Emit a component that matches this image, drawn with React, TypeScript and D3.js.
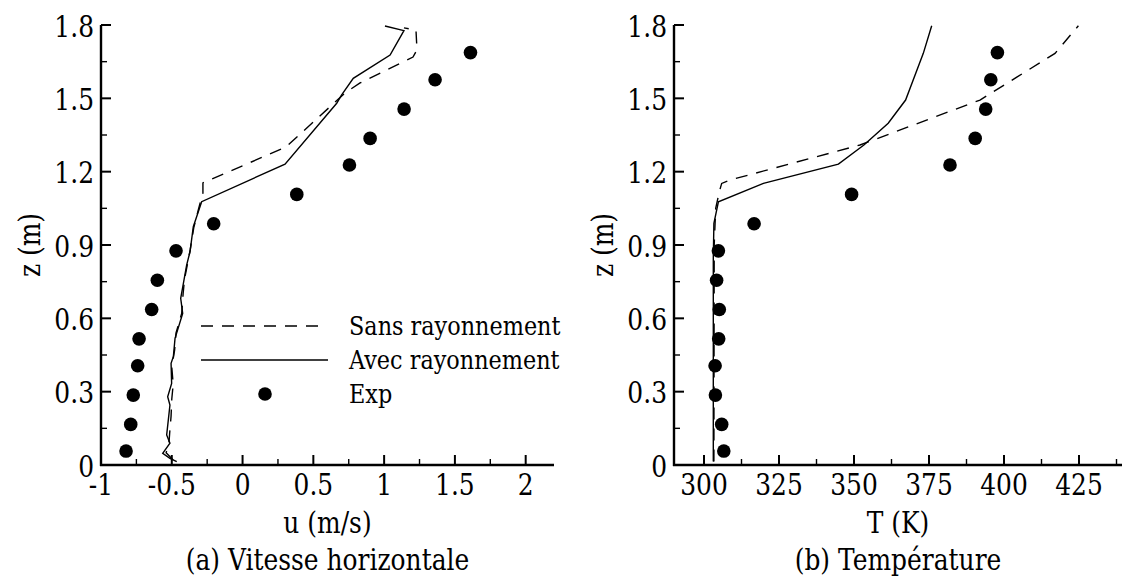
import React from "react";
import * as d3 from "d3";

// ---- data ----
const expZ = [0.057, 0.166, 0.286, 0.406, 0.516, 0.636, 0.756, 0.876, 0.987, 1.107, 1.227, 1.336, 1.456, 1.576, 1.687];
const uExp = [-0.823, -0.79, -0.772, -0.741, -0.731, -0.642, -0.602, -0.47, -0.204, 0.383, 0.755, 0.901, 1.141, 1.36, 1.61];
const tExp = [306.6, 305.9, 303.8, 303.7, 304.9, 305.1, 304.2, 304.8, 316.7, 349.2, 382.0, 390.4, 393.9, 395.6, 397.8];

const uAvecZ = [0.014, 0.027, 0.048, 0.089, 0.123, 0.245, 0.279, 0.334, 0.416, 0.443, 0.518, 0.62, 0.682, 0.743, 0.818, 0.873, 0.975, 1.077, 1.231, 1.48, 1.514, 1.582, 1.677, 1.777, 1.796];
const uAvec = [-0.465, -0.513, -0.564, -0.513, -0.536, -0.513, -0.529, -0.501, -0.505, -0.489, -0.477, -0.423, -0.437, -0.418, -0.395, -0.371, -0.348, -0.289, 0.3, 0.665, 0.7, 0.782, 1.042, 1.14, 1.006];

const uSansZ = [0.02, 0.05, 0.09, 0.13, 0.2, 0.27, 0.33, 0.4, 0.47, 0.54, 0.62, 0.7, 0.76, 0.82, 0.88, 0.97, 1.05, 1.113, 1.154, 1.301, 1.522, 1.563, 1.669, 1.698, 1.78, 1.788];
const uSans = [-0.49, -0.54, -0.52, -0.515, -0.505, -0.5, -0.49, -0.5, -0.48, -0.47, -0.43, -0.42, -0.41, -0.39, -0.37, -0.345, -0.31, -0.28, -0.28, 0.307, 0.724, 0.83, 1.204, 1.232, 1.225, 1.14];

const tAvecZ = [0.014, 0.85, 0.989, 1.077, 1.152, 1.231, 1.309, 1.398, 1.493, 1.684, 1.797];
const tAvec = [303.1, 303.1, 303.3, 304.8, 319.8, 344.8, 353.3, 361.4, 367.2, 373.1, 375.9];

const tSansZ = [0.014, 0.9, 1.05, 1.118, 1.152, 1.166, 1.309, 1.493, 1.684, 1.797];
const tSans = [303.3, 303.4, 303.9, 305.1, 305.9, 308.7, 352, 392, 417, 424.8];

const zTicks = [0, 0.3, 0.6, 0.9, 1.2, 1.5, 1.8];
const zMinor = [0.15, 0.45, 0.75, 1.05, 1.35, 1.65];
const uTicks = [-1, -0.5, 0, 0.5, 1, 1.5, 2];
const uMinor = [-0.75, -0.25, 0.25, 0.75, 1.25, 1.75];
const tTicks = [300, 325, 350, 375, 400, 425];
const tMinor = [312.5, 337.5, 362.5, 387.5, 412.5, 437.5];

const legendLabels = ["Sans rayonnement", "Avec rayonnement", "Exp"];

const FONT = "DejaVu Serif";
const DASH = "12,9";
const SX = 0.86;

const y = d3.scaleLinear().domain([0, 1.8]).range([465, 25]);
const xU = d3.scaleLinear().domain([-1, 2.2]).range([101, 554]);
const xT = d3.scaleLinear().domain([290, 440]).range([674, 1124]);

function T({ x, y, size = 29, anchor = "start", rotate = 0, children }: any) {
  return (
    <text
      transform={`translate(${x},${y})${rotate ? ` rotate(${rotate})` : ""} scale(${SX},1)`}
      textAnchor={anchor}
      style={{ fontFamily: FONT, fontSize: size + "px" }}
      fill="#000"
    >
      {children}
    </text>
  );
}

function Panel({ x, ticks, minor, xLabel, caption, lines, exp, children }: any) {
  const [x0, x1] = x.range();
  const y0 = y(0);
  const y1 = y(1.8);
  const mid = (x0 + Math.min(x1, 1122)) / 2;
  return (
    <g>
      {lines.map((l: any, i: number) => {
        const gen = d3
          .line<number>()
          .x((_, k) => x(l.v[k]))
          .y((zz) => y(zz));
        return (
          <path key={i} d={gen(l.z) || ""} fill="none" stroke="#000" strokeWidth={1.4} strokeDasharray={l.dash ? DASH : undefined} />
        );
      })}
      {exp.z.map((zz: number, i: number) => (
        <circle key={i} cx={x(exp.v[i])} cy={y(zz)} r={6.8} fill="#000" />
      ))}
      <line x1={x0} x2={x0} y1={y1} y2={y0 + 1} stroke="#000" strokeWidth={2.4} />
      <line x1={x0 - 1} x2={x1} y1={y0} y2={y0} stroke="#000" strokeWidth={2.4} />
      {zTicks.map((t) => (
        <g key={"zt" + t}>
          <line x1={x0} x2={x0 + 10} y1={y(t)} y2={y(t)} stroke="#000" strokeWidth={2} />
          <T x={x0 - 7} y={y(t) + 11.5} anchor="end">
            {String(t)}
          </T>
        </g>
      ))}
      {zMinor.map((t) => (
        <line key={"zm" + t} x1={x0} x2={x0 + 6} y1={y(t)} y2={y(t)} stroke="#000" strokeWidth={1.4} />
      ))}
      {ticks.map((t: number) => (
        <g key={"xt" + t}>
          <line x1={x(t)} x2={x(t)} y1={y0} y2={y0 - 10} stroke="#000" strokeWidth={2} />
          <T x={x(t)} y={495} anchor="middle">
            {String(t)}
          </T>
        </g>
      ))}
      {minor.map((t: number) => (
        <line key={"xm" + t} x1={x(t)} x2={x(t)} y1={y0} y2={y0 - 6} stroke="#000" strokeWidth={1.4} />
      ))}
      <T x={mid} y={533} anchor="middle">
        {xLabel}
      </T>
      <T x={mid} y={570} anchor="middle">
        {caption}
      </T>
      <T x={x0 - 61} y={(y0 + y1) / 2} anchor="middle" rotate={-90}>
        z (m)
      </T>
      {children}
    </g>
  );
}

export default function App() {
  return (
    <svg width={1122} height={578} style={{ position: "absolute", left: 0, top: 0, background: "#fff" }}>
      <rect width={1122} height={578} fill="#fff" />
      <Panel
        x={xU}
        ticks={uTicks}
        minor={uMinor}
        xLabel="u (m/s)"
        caption="(a) Vitesse horizontale"
        lines={[
          { z: uSansZ, v: uSans, dash: true },
          { z: uAvecZ, v: uAvec, dash: false },
        ]}
        exp={{ z: expZ, v: uExp }}
      >
        <g>
          <line x1={201} x2={327} y1={326} y2={326} stroke="#000" strokeWidth={1.4} strokeDasharray={DASH} />
          <T x={349} y={335} size={26}>{legendLabels[0]}</T>
          <line x1={201} x2={328} y1={360} y2={360} stroke="#000" strokeWidth={1.4} />
          <T x={349} y={369} size={26}>{legendLabels[1]}</T>
          <circle cx={265} cy={394} r={6.8} fill="#000" />
          <T x={349} y={403} size={26}>{legendLabels[2]}</T>
        </g>
      </Panel>
      <Panel
        x={xT}
        ticks={tTicks}
        minor={tMinor}
        xLabel="T (K)"
        caption="(b) Température"
        lines={[
          { z: tSansZ, v: tSans, dash: true },
          { z: tAvecZ, v: tAvec, dash: false },
        ]}
        exp={{ z: expZ, v: tExp }}
      />
    </svg>
  );
}
